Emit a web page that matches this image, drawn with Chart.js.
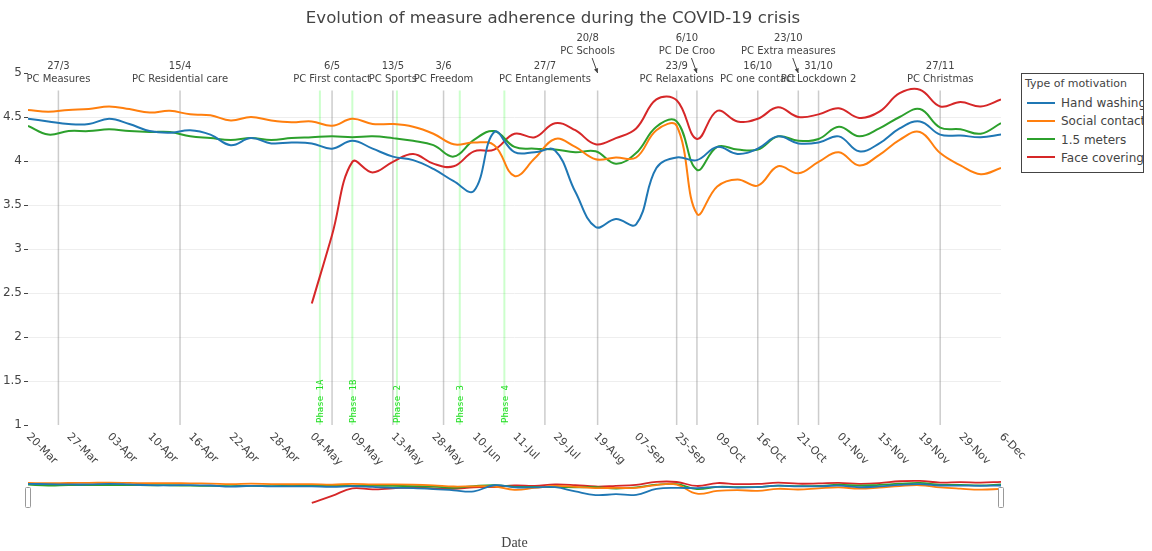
<!DOCTYPE html>
<html>
<head>
<meta charset="utf-8">
<title>Evolution of measure adherence during the COVID-19 crisis</title>
<script src="https://cdn.jsdelivr.net/npm/chart.js@4.4.1/dist/chart.umd.min.js"></script>
<style>
  html, body { margin:0; padding:0; background:#fff; }
  #wrap { position:relative; width:1152px; height:551px; overflow:hidden; font-family:"DejaVu Sans", Verdana, sans-serif; }
  #main { position:absolute; left:0; top:0; }
  #mini { position:absolute; left:0; top:476px; }
  .legend { position:absolute; left:1021px; top:73px; width:121px; height:98px; border:1px solid #444; background:#fff; overflow:hidden; color:#444; }
  .legend .ttl { position:absolute; left:3px; top:3px; font-size:11px; white-space:nowrap; }
  .legend .item { position:absolute; left:5px; height:18px; line-height:18px; font-size:12px; white-space:nowrap; }
  .legend .swatch { display:inline-block; width:28px; height:2px; vertical-align:middle; margin-right:6px; position:relative; top:-1px; }
  .xtitle { position:absolute; top:535px; left:0; width:1029px; text-align:center; font-family:"Liberation Serif", "Times New Roman", serif; font-size:14px; color:#444; }
</style>
</head>
<body>
<div id="wrap">
  <canvas id="main" width="1152" height="551"></canvas>
  <canvas id="mini" width="1152" height="34"></canvas>
  <div class="legend" id="legend"></div>
  <div class="xtitle">Date</div>
</div>
<script>
// category labels shown on the x axis (one every 4 survey points)
const dateLabels = ['20-Mar','27-Mar','03-Apr','10-Apr','16-Apr','22-Apr','28-Apr','04-May','09-May','13-May',
  '28-May','10-Jun','11-Jul','29-Jul','19-Aug','07-Sep','25-Sep','09-Oct','16-Oct','21-Oct',
  '01-Nov','15-Nov','19-Nov','29-Nov','6-Dec'];

const seriesNames = ['Hand washing', 'Social contact', '1.5 meters', 'Face covering'];
const seriesColors = ['#1f77b4', '#ff7f0e', '#2ca02c', '#d62728'];

// values read every half label step
const handWashing = [4.48,4.45,4.42,4.42,4.48,4.42,4.34,4.32,4.35,4.30,4.18,4.26,4.20,4.21,4.20,4.14,4.23,4.14,4.05,4.01,
  3.91,3.77,3.66,4.33,4.10,4.10,4.12,3.65,3.25,3.34,3.28,3.92,4.04,4.01,4.16,4.08,4.14,4.28,4.20,4.21,
  4.28,4.11,4.20,4.37,4.45,4.30,4.29,4.27,4.30];
const socialContact = [4.58,4.56,4.58,4.59,4.62,4.59,4.55,4.57,4.53,4.52,4.46,4.50,4.46,4.44,4.45,4.40,4.48,4.42,4.42,4.39,
  4.31,4.19,4.21,4.18,3.83,4.03,4.25,4.16,4.02,4.04,4.04,4.35,4.40,3.40,3.71,3.79,3.72,3.94,3.86,3.99,
  4.10,3.95,4.07,4.24,4.33,4.09,3.95,3.85,3.92];
const meters = [4.40,4.30,4.34,4.34,4.36,4.34,4.33,4.33,4.28,4.26,4.24,4.26,4.24,4.26,4.27,4.28,4.27,4.28,4.26,4.23,
  4.18,4.05,4.24,4.34,4.16,4.14,4.13,4.10,4.11,3.97,4.09,4.39,4.45,3.90,4.16,4.13,4.13,4.28,4.23,4.25,
  4.39,4.28,4.37,4.50,4.59,4.38,4.36,4.31,4.43];
const faceCovering = [null,null,null,null,null,null,null,null,null,null,null,null,null,null,2.38,3.16,3.99,3.87,3.99,4.08,
  3.97,3.94,4.11,4.13,4.31,4.27,4.43,4.35,4.19,4.26,4.37,4.70,4.69,4.25,4.57,4.45,4.48,4.61,4.50,4.53,
  4.60,4.49,4.56,4.77,4.81,4.62,4.67,4.62,4.70];

const yTicks = [1, 1.5, 2, 2.5, 3, 3.5, 4, 4.5, 5];

// press conferences (position on the category axis)
const eventDates = ['27/3','15/4','6/5','13/5','3/6','27/7','20/8','23/9','6/10','16/10','23/10','31/10','27/11'];
const eventNames = ['PC Measures','PC Residential care','PC First contact','PC Sports','PC Freedom','PC Entanglements',
  'PC Schools','PC Relaxations','PC De Croo','PC one contact','PC Extra measures','PC Lockdown 2','PC Christmas'];
const eventAt = [0.75, 3.75, 7.5, 9, 10.25, 12.75, 14.05, 16, 16.5, 18, 19, 19.5, 22.5];
const eventArrow = [false,false,false,false,false,false,true,false,true,false,true,false,false];

const phaseNames = ['Phase 1A','Phase 1B','Phase 2','Phase 3','Phase 4'];
const phaseAt = [7.2, 8.0, 9.1, 10.65, 11.75];

const allSeries = [handWashing, socialContact, meters, faceCovering];
const toPoints = arr => arr.map((v, i) => ({ x: i / 2, y: v }));

function makeDatasets(width) {
  return allSeries.map((s, i) => ({
    label: seriesNames[i],
    data: toPoints(s),
    borderColor: seriesColors[i],
    backgroundColor: seriesColors[i],
    borderWidth: width,
    pointRadius: 0,
    tension: 0.4,
    spanGaps: false
  }));
}

function vline(ctx, x, y0, y1) {
  ctx.beginPath(); ctx.moveTo(x, y0); ctx.lineTo(x, y1); ctx.stroke();
}

function arrow(ctx, x0, y0, x1, y1) {
  ctx.beginPath(); ctx.moveTo(x0, y0); ctx.lineTo(x1, y1); ctx.stroke();
  const a = Math.atan2(y1 - y0, x1 - x0), s = 5;
  ctx.beginPath();
  ctx.moveTo(x1, y1);
  ctx.lineTo(x1 - s * Math.cos(a - 0.45), y1 - s * Math.sin(a - 0.45));
  ctx.lineTo(x1 - s * Math.cos(a + 0.45), y1 - s * Math.sin(a + 0.45));
  ctx.closePath(); ctx.fill();
}

const decor = {
  id: 'decor',
  beforeDatasetsDraw(chart) {
    const { ctx, scales: { x, y } } = chart;
    const top = y.getPixelForValue(4.8), bot = y.getPixelForValue(1);
    ctx.save();
    ctx.lineWidth = 2;
    ctx.strokeStyle = 'rgba(0,255,0,0.2)';
    phaseAt.forEach(v => vline(ctx, x.getPixelForValue(v), top, bot));
    ctx.lineWidth = 1.5;
    ctx.strokeStyle = 'rgba(128,128,128,0.4)';
    eventAt.forEach(v => vline(ctx, x.getPixelForValue(v), top, bot));
    ctx.restore();
  },
  afterDraw(chart) {
    const { ctx, chartArea: ca, scales: { x, y } } = chart;
    ctx.save();
    // title
    ctx.fillStyle = '#444';
    ctx.font = '16.6px "DejaVu Sans"';
    ctx.textAlign = 'center';
    ctx.textBaseline = 'middle';
    ctx.fillText('Evolution of measure adherence during the COVID-19 crisis', 553, 19);

    // press conference annotations
    ctx.font = '10px "DejaVu Sans"';
    ctx.strokeStyle = '#444';
    ctx.lineWidth = 1;
    const y5 = y.getPixelForValue(5);
    eventAt.forEach((v, i) => {
      const px = x.getPixelForValue(v);
      let cx = px, cy = y5;
      if (eventArrow[i]) {
        cx = px - 10; cy = y5 - 28;
        arrow(ctx, px - 5.5, cy + 13, px, y5);
      }
      ctx.fillText(eventDates[i], cx, cy - 6.5);
      ctx.fillText(eventNames[i], cx, cy + 6.5);
    });

    // phase labels
    ctx.fillStyle = '#22dd22';
    ctx.font = '9px "DejaVu Sans Mono"';
    ctx.textAlign = 'left';
    phaseAt.forEach((v, i) => {
      ctx.save();
      ctx.translate(x.getPixelForValue(v) + 1, ca.bottom - 2);
      ctx.rotate(-Math.PI / 2);
      ctx.fillText(phaseNames[i], 0, 0);
      ctx.restore();
    });

    // rotated category labels
    ctx.fillStyle = '#444';
    ctx.font = '11px "DejaVu Sans"';
    dateLabels.forEach((lab, i) => {
      ctx.save();
      ctx.translate(x.getPixelForValue(i), ca.bottom + 10);
      ctx.rotate(Math.PI / 4);
      ctx.fillText(lab, 0, 0);
      ctx.restore();
    });
    ctx.restore();
  }
};

const handles = {
  id: 'handles',
  afterDraw(chart) {
    const { ctx, chartArea: ca } = chart;
    ctx.save();
    ctx.fillStyle = '#fff';
    ctx.strokeStyle = '#999';
    ctx.lineWidth = 1;
    [ca.left, ca.right].forEach(px => {
      ctx.beginPath();
      ctx.roundRect(Math.round(px) - 2.5, 11.5, 5, 20, 1);
      ctx.fill(); ctx.stroke();
    });
    ctx.restore();
  }
};

new Chart(document.getElementById('main'), {
  type: 'line',
  data: { datasets: makeDatasets(2) },
  plugins: [decor],
  options: {
    responsive: false,
    animation: false,
    layout: { padding: { left: 0, right: 151, top: 73, bottom: 0 } },
    plugins: { legend: { display: false }, tooltip: { enabled: false }, title: { display: false } },
    scales: {
      x: {
        type: 'linear', min: 0, max: dateLabels.length - 1,
        grid: { display: false }, border: { display: false },
        ticks: { display: false },
        afterFit: s => { s.height = 126; }
      },
      y: {
        min: yTicks[0], max: yTicks[yTicks.length - 1],
        afterBuildTicks: s => { s.ticks = yTicks.map(v => ({ value: v })); },
        afterFit: s => { s.width = 28; },
        border: { display: false },
        grid: {
          color: c => (c.tick && (c.tick.value === 1 || c.tick.value === 5)) ? 'rgba(0,0,0,0)' : '#eeeeee',
          tickColor: '#444', tickLength: 4, lineWidth: 1
        },
        ticks: { color: '#444', padding: 2, font: { family: 'DejaVu Sans', size: 12 }, callback: v => String(v) }
      }
    }
  }
});

new Chart(document.getElementById('mini'), {
  type: 'line',
  data: { datasets: makeDatasets(1.8) },
  plugins: [handles],
  options: {
    responsive: false,
    animation: false,
    layout: { padding: { left: 28, right: 151, top: 0, bottom: 0 } },
    plugins: { legend: { display: false }, tooltip: { enabled: false } },
    scales: {
      x: { type: 'linear', min: 0, max: dateLabels.length - 1, display: false },
      y: { min: 1.6, max: 5.35, display: false }
    }
  }
});

// legend box
const legend = document.getElementById('legend');
legend.innerHTML = '<div class="ttl">Type of motivation</div>' + seriesNames.map((n, i) =>
  `<div class="item" style="top:${20 + i * 18.3}px"><span class="swatch" style="background:${seriesColors[i]}"></span>${n}</div>`
).join('');
</script>
</body>
</html>
